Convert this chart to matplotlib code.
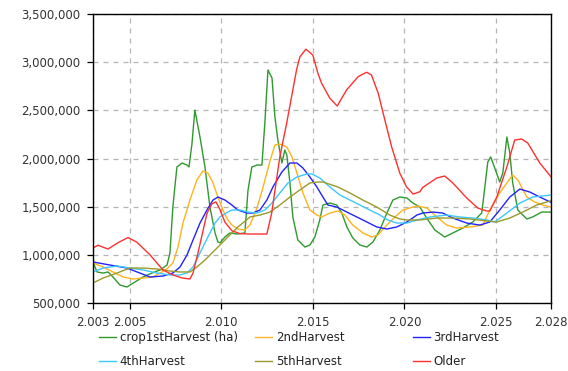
import matplotlib.pyplot as plt
from matplotlib.ticker import FuncFormatter

# harvested area per crop age class, thousand ha
years_1st = [2003.0, 2003.22, 2003.55, 2003.82, 2004.09, 2004.47, 2004.85, 2005.29, 2005.73, 2006.22,
             2006.66, 2007.04, 2007.2, 2007.36, 2007.58, 2007.86, 2008.13, 2008.24, 2008.4, 2008.56,
             2008.84, 2009.11, 2009.38, 2009.66, 2009.82, 2009.93, 2010.2, 2010.47, 2010.86, 2011.29,
             2011.46, 2011.67, 2011.95, 2012.22, 2012.38, 2012.55, 2012.77, 2012.93, 2013.09, 2013.31,
             2013.47, 2013.58, 2013.75, 2013.91, 2014.18, 2014.57, 2014.84, 2015.11, 2015.38, 2015.55,
             2015.93, 2016.31, 2016.58, 2016.86, 2017.18, 2017.57, 2017.95, 2018.28, 2018.66, 2019.04,
             2019.37, 2019.75, 2020.13, 2020.46, 2020.84, 2021.22, 2021.66, 2022.2, 2022.64, 2023.19,
             2023.73, 2024.22, 2024.39, 2024.55, 2024.71, 2024.93, 2025.2, 2025.37, 2025.59, 2025.75,
             2025.91, 2026.19, 2026.68, 2027.0, 2027.49, 2027.93, 2028.0]
harvest_1st = [926, 822, 811, 822, 770, 687, 666, 718, 770, 811,
               843, 894, 1019, 1500, 1912, 1953, 1932, 1912, 2150, 2503,
               2223, 1912, 1500, 1227, 1133, 1125, 1185, 1227, 1216, 1227,
               1670, 1912, 1932, 1932, 2368, 2919, 2836, 2431, 2192, 1953,
               2088, 2036, 1746, 1390, 1154, 1081, 1102, 1185, 1362, 1517,
               1538, 1517, 1434, 1289, 1175, 1102, 1081, 1133, 1258, 1434,
               1569, 1600, 1590, 1538, 1496, 1380, 1258, 1185, 1227, 1278,
               1341, 1434, 1704, 1964, 2016, 1901, 1756, 1849, 2223, 2057,
               1746, 1465, 1372, 1393, 1444, 1444, 1440]

years_2nd = [2003.0, 2003.55, 2004.09, 2004.64, 2005.18, 2005.73, 2006.27, 2006.76, 2007.09, 2007.36,
             2007.64, 2007.91, 2008.29, 2008.67, 2009.0, 2009.27, 2009.55, 2009.82, 2010.09, 2010.36,
             2010.58, 2010.91, 2011.29, 2011.57, 2011.95, 2012.27, 2012.66, 2012.93, 2013.2, 2013.58,
             2013.86, 2014.13, 2014.46, 2014.84, 2015.22, 2015.49, 2015.93, 2016.37, 2016.75, 2017.18,
             2017.73, 2018.22, 2018.55, 2019.04, 2019.48, 2019.91, 2020.46, 2020.73, 2021.22, 2021.77,
             2022.31, 2022.86, 2023.57, 2024.28, 2024.66, 2025.2, 2025.59, 2025.91, 2026.19, 2026.68,
             2027.11, 2027.55, 2028.0]
harvest_2nd = [915, 874, 822, 770, 749, 759, 770, 822, 863, 915,
               1081, 1330, 1569, 1777, 1870, 1849, 1746, 1600, 1465, 1362,
               1309, 1268, 1258, 1309, 1486, 1694, 1974, 2140, 2150, 2119,
               2016, 1849, 1642, 1465, 1413, 1393, 1434, 1455, 1413, 1309,
               1227, 1185, 1206, 1309, 1393, 1465, 1496, 1507, 1486, 1393,
               1309, 1278, 1289, 1309, 1465, 1642, 1746, 1829, 1777, 1600,
               1548, 1517, 1496]

years_3rd = [2003.0, 2003.93, 2004.85, 2005.56, 2006.11, 2006.82, 2007.36, 2007.75, 2008.13, 2008.46,
             2008.84, 2009.22, 2009.55, 2009.82, 2010.2, 2010.58, 2010.91, 2011.4, 2011.73, 2012.11,
             2012.49, 2012.82, 2013.31, 2013.75, 2014.13, 2014.46, 2014.84, 2015.22, 2015.55, 2015.82,
             2016.31, 2016.86, 2017.4, 2017.95, 2018.49, 2019.04, 2019.58, 2020.13, 2020.68, 2021.0,
             2021.55, 2022.09, 2022.64, 2023.4, 2024.11, 2024.66, 2025.2, 2025.75, 2026.3, 2026.84,
             2027.39, 2028.0]
harvest_3rd = [926, 894, 863, 811, 770, 780, 811, 874, 998, 1154,
               1330, 1465, 1569, 1600, 1569, 1517, 1465, 1434, 1434, 1465,
               1569, 1704, 1860, 1953, 1953, 1901, 1808, 1704, 1600, 1517,
               1496, 1444, 1393, 1341, 1289, 1268, 1289, 1341, 1413, 1434,
               1444, 1434, 1382, 1330, 1309, 1341, 1465, 1600, 1683, 1652,
               1600, 1545]

years_4th = [2003.0, 2003.55, 2004.31, 2005.02, 2005.73, 2006.49, 2007.2, 2007.75, 2008.13, 2008.46,
             2008.84, 2009.27, 2009.66, 2009.93, 2010.36, 2010.58, 2011.02, 2011.46, 2011.95, 2012.38,
             2012.77, 2013.2, 2013.64, 2014.13, 2014.67, 2014.95, 2015.38, 2015.93, 2016.48, 2017.02,
             2017.57, 2018.11, 2018.66, 2019.09, 2019.58, 2020.13, 2020.68, 2021.39, 2022.31, 2023.02,
             2023.73, 2024.49, 2024.93, 2025.59, 2026.3, 2027.0, 2028.0]
harvest_4th = [822, 863, 884, 863, 843, 811, 791, 791, 811, 874,
               1019, 1185, 1330, 1393, 1444, 1465, 1465, 1444, 1434, 1465,
               1538, 1642, 1746, 1808, 1839, 1839, 1798, 1704, 1621, 1569,
               1517, 1465, 1413, 1362, 1330, 1330, 1362, 1393, 1413, 1393,
               1382, 1362, 1341, 1434, 1538, 1600, 1621]

years_5th = [2003.0, 2003.55, 2004.31, 2005.02, 2005.73, 2006.49, 2007.2, 2007.75, 2008.29, 2008.67,
             2009.11, 2009.55, 2009.93, 2010.36, 2010.91, 2011.57, 2012.11, 2012.66, 2013.2, 2013.75,
             2014.29, 2014.84, 2015.27, 2015.55, 2016.37, 2017.02, 2017.73, 2018.49, 2019.2, 2019.75,
             2020.13, 2020.84, 2021.77, 2022.64, 2023.57, 2024.49, 2025.04, 2025.75, 2026.46, 2027.22,
             2028.0]
harvest_5th = [708, 759, 811, 863, 863, 853, 832, 822, 822, 874,
               946, 1029, 1102, 1185, 1289, 1393, 1413, 1444, 1517, 1600,
               1673, 1746, 1756, 1756, 1704, 1642, 1569, 1496, 1413, 1372,
               1362, 1362, 1382, 1382, 1372, 1351, 1341, 1382, 1444, 1517,
               1562]

years_older = [2003.0, 2003.27, 2003.82, 2004.31, 2004.91, 2005.4, 2006.11, 2006.82, 2007.36, 2007.86,
               2008.29, 2008.46, 2008.73, 2009.22, 2009.49, 2009.71, 2009.93, 2010.2, 2010.58, 2011.02,
               2011.57, 2012.49, 2012.75, 2013.2, 2013.57, 2014.11, 2014.29, 2014.62, 2015.0, 2015.27,
               2015.48, 2015.93, 2016.33, 2016.84, 2017.47, 2017.93, 2018.2, 2018.57, 2018.93, 2019.3,
               2019.75, 2020.11, 2020.47, 2020.84, 2021.0, 2021.77, 2022.2, 2022.64, 2023.4, 2024.0,
               2024.49, 2024.66, 2025.04, 2025.59, 2026.02, 2026.4, 2026.73, 2027.39, 2028.0]
harvest_older = [1070, 1100, 1060, 1120, 1180, 1130, 1000, 843, 791, 760,
                 749, 811, 1019, 1430, 1530, 1550, 1470, 1340, 1250, 1220,
                 1216, 1216, 1430, 2020, 2365, 2920, 3054, 3135, 3074, 2888,
                 2780, 2625, 2545, 2711, 2849, 2895, 2867, 2677, 2400, 2122,
                 1846, 1707, 1631, 1655, 1700, 1798, 1818, 1746, 1590, 1486,
                 1455, 1455, 1600, 1912, 2192, 2202, 2161, 1953, 1810]

labels = ['crop1stHarvest (ha)', '2ndHarvest', '3rdHarvest', '4thHarvest', '5thHarvest', 'Older']
colors = ['#2e9a2e', '#ffb31f', '#2222ff', '#3cc8ff', '#9a9a2a', '#ff3030']

x_ticks = [2003, 2005, 2010, 2015, 2020, 2025, 2028]
x_tick_labels = ['2.003', '2.005', '2.010', '2.015', '2.020', '2.025', '2.028']
y_ticks = [500000, 1000000, 1500000, 2000000, 2500000, 3000000, 3500000]

plt.rcParams['font.family'] = 'DejaVu Sans'
plt.rcParams['font.size'] = 8.5

dpi = 100
fig = plt.figure(figsize=(568 / dpi, 371 / dpi), dpi=dpi)
ax = fig.add_axes([93 / 568, 1 - 303 / 371, (551 - 93) / 568, (303 - 14) / 371])

series = [(years_1st, harvest_1st), (years_2nd, harvest_2nd), (years_3rd, harvest_3rd),
          (years_4th, harvest_4th), (years_5th, harvest_5th), (years_older, harvest_older)]
for (xs, ys), lab, col in zip(series, labels, colors):
    ax.plot(xs, [v * 1000 for v in ys], color=col, linewidth=1.0, label=lab)

ax.set_xlim(2003, 2028)
ax.set_ylim(500000, 3500000)
ax.set_xticks(x_ticks)
ax.set_xticklabels(x_tick_labels)
ax.set_yticks(y_ticks)
ax.yaxis.set_major_formatter(FuncFormatter(lambda v, p: '{:,.0f}'.format(v)))
ax.grid(True, color='#b4b4b4', linestyle=(0, (4, 4)), linewidth=0.9)
ax.tick_params(direction='out', length=4, width=0.9, colors='black', labelcolor='#333333', pad=5)
for s in ax.spines.values():
    s.set_linewidth(1.0)
    s.set_color('black')

# legend: three columns of two entries below the plot
handles = ax.get_lines()
col_x = [99 / 568, 255 / 568, 413 / 568]
for i, cx in enumerate(col_x):
    hs = [handles[i], handles[i + 3]]
    fig.legend(hs, [h.get_label() for h in hs], loc='upper left',
               bbox_to_anchor=(cx, 1 - 331 / 371), frameon=False, borderpad=0,
               borderaxespad=0, handlelength=1.4, handletextpad=0.35,
               labelspacing=0.95, labelcolor='#222222')

fig.savefig('out.png', dpi=dpi)
